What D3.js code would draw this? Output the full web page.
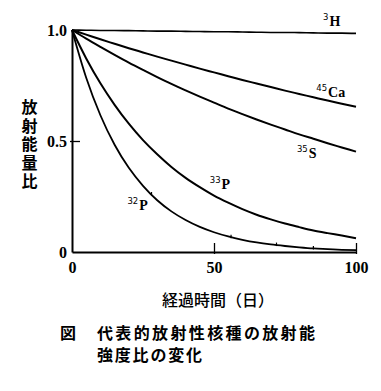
<!DOCTYPE html>
<html><head><meta charset="utf-8">
<script src="https://cdn.jsdelivr.net/npm/d3@7"></script>
<style>
html,body{margin:0;padding:0;background:#fff;}
svg{display:block;}
</style></head>
<body>
<svg id="chart" width="381" height="391"></svg>
<script>
// ---- data ----
const days = [0,5,10,15,20,25,30,35,40,45,50,55,60,65,70,75,80,85,90,95,100];
const h3   = [1.0,0.999,0.998,0.998,0.997,0.996,0.995,0.995,0.994,0.993,0.992,0.992,0.991,0.990,0.989,0.989,0.988,0.987,0.986,0.986,0.985];
const ca45 = [1.0,0.979,0.958,0.938,0.918,0.899,0.880,0.862,0.844,0.826,0.809,0.792,0.775,0.759,0.743,0.727,0.712,0.697,0.682,0.668,0.654];
const s35  = [1.0,0.961,0.924,0.888,0.853,0.820,0.788,0.757,0.728,0.700,0.673,0.646,0.621,0.597,0.574,0.552,0.530,0.510,0.490,0.471,0.452];
const p33  = [1.0,0.872,0.760,0.663,0.578,0.504,0.440,0.383,0.334,0.292,0.254,0.222,0.193,0.168,0.147,0.128,0.112,0.097,0.085,0.074,0.062];
const p32  = [1.0,0.785,0.616,0.483,0.379,0.298,0.233,0.183,0.144,0.113,0.089,0.070,0.055,0.043,0.034,0.027,0.021,0.016,0.013,0.010,0.008];
const series = [
  {name:"H",  mass:"3",  values:h3,   width:1.6},
  {name:"Ca", mass:"45", values:ca45, width:2},
  {name:"S",  mass:"35", values:s35,  width:2},
  {name:"P",  mass:"33", values:p33,  width:2},
  {name:"P",  mass:"32", values:p32,  width:1.8}
];
const labelAt = [
  {mass:"3",  name:"H",  day:88.4, val:1.018},
  {mass:"45", name:"Ca", day:86.0, val:0.698},
  {mass:"35", name:"S",  day:79.2, val:0.423},
  {mass:"33", name:"P",  day:48.5, val:0.285},
  {mass:"32", name:"P",  day:19.5, val:0.19}
];
const p32Marks = [28, 56, 72, 85];
const yTicks = [0, 0.5, 1.0];
const yTickLabels = ["0", "0.5", "1.0"];
const xTicks = [0, 50, 100];
const xTitle = "経過時間（日）";
const yTitle = "放射能量比";
const caption1a = "図";
const caption1b = "代表的放射性核種の放射能";
const caption2 = "強度比の変化";

// ---- drawing ----
const svg = d3.select("#chart");
const x = d3.scaleLinear().domain([0,100]).range([72,356]);
const y = d3.scaleLinear().domain([0,1]).range([252,30]);
const serif = "'Liberation Serif','Times New Roman',serif";
const cjk = "'Noto Sans CJK JP','Noto Sans CJK SC',sans-serif";

// curves
const line = d3.line().x((d,i)=>x(days[i])).y(d=>y(d)).curve(d3.curveMonotoneX);
svg.append("g").selectAll("path").data(series).join("path")
  .attr("d", d=>line(d.values))
  .attr("fill","none").attr("stroke","#000")
  .attr("stroke-width", d=>d.width).attr("stroke-linejoin","round");

// tiny marks on 32P curve
const p32Interp = d => {
  const i = d3.bisectRight(days, d) - 1;
  const j = Math.min(i+1, days.length-1);
  const t = j===i ? 0 : (d-days[i])/(days[j]-days[i]);
  return p32[i] + (p32[j]-p32[i])*t;
};
svg.append("g").selectAll("line").data(p32Marks).join("line")
  .attr("x1", d=>x(d)).attr("x2", d=>x(d))
  .attr("y1", d=>y(p32Interp(d))-2.5).attr("y2", d=>y(p32Interp(d))+1)
  .attr("stroke","#000").attr("stroke-width",1.2);

// y axis
const yAxis = d3.axisLeft(y).tickValues(yTicks)
  .tickFormat((d,i)=>yTickLabels[i]).tickSizeInner(-8).tickSizeOuter(0).tickPadding(5);
const gy = svg.append("g").attr("transform","translate(72,0)").call(yAxis);
gy.select(".domain").attr("stroke-width",2).attr("stroke","#000");
gy.selectAll(".tick line").attr("stroke-width",1.3).attr("x1",-2)
  .attr("opacity",(d)=>d===0.5?1:0);
gy.selectAll(".tick text").attr("font-family",serif).attr("font-weight","bold")
  .attr("font-size",16).attr("fill","#000").attr("dy","0.33em");

// x axis
const xAxis = d3.axisBottom(x).tickValues(xTicks)
  .tickSizeInner(-9).tickSizeOuter(0).tickPadding(10);
const gx = svg.append("g").attr("transform","translate(0,252)").call(xAxis);
gx.select(".domain").attr("stroke-width",2).attr("stroke","#000");
gx.selectAll(".tick line").attr("stroke-width",1.3).attr("y1",2)
  .attr("opacity",(d)=>d===0?0:1);
gx.selectAll(".tick text").attr("font-family",serif).attr("font-weight","bold")
  .attr("font-size",16).attr("fill","#000");

// series labels
const lg = svg.append("g");
labelAt.forEach(l=>{
  const t = lg.append("text").attr("x", x(l.day)).attr("y", y(l.val))
    .attr("fill","#000");
  t.append("tspan").text(l.mass).attr("font-family","'DejaVu Sans',sans-serif")
    .attr("font-size",8.5).attr("dy",-6);
  t.append("tspan").text(l.name).attr("font-family",serif).attr("font-weight","bold")
    .attr("font-size",14).attr("dy",6).attr("dx",1);
});

// y title (vertical, one text)
svg.append("text")
  .attr("x",29.5).attr("y",99)
  .attr("writing-mode","vertical-rl")
  .style("text-orientation","upright")
  .attr("letter-spacing",2.5)
  .attr("font-family",cjk).attr("font-weight","bold")
  .attr("font-size",16).attr("fill","#000").text(yTitle);

// x title
svg.append("text").attr("x",218).attr("y",306).attr("text-anchor","middle")
  .attr("font-family",cjk).attr("font-weight",500).attr("font-size",16)
  .attr("fill","#000").text(xTitle);

// caption
svg.append("text").attr("x",60).attr("y",339).attr("font-family",cjk)
  .attr("font-weight","bold").attr("font-size",16).attr("fill","#000").text(caption1a);
svg.append("text").attr("x",97).attr("y",339).attr("font-family",cjk)
  .attr("font-weight","bold").attr("font-size",16).attr("fill","#000")
  .attr("textLength",218).attr("lengthAdjust","spacing").text(caption1b);
svg.append("text").attr("x",97).attr("y",361).attr("font-family",cjk)
  .attr("font-weight","bold").attr("font-size",16).attr("fill","#000")
  .attr("textLength",105).attr("lengthAdjust","spacing").text(caption2);
</script>
</body></html>
